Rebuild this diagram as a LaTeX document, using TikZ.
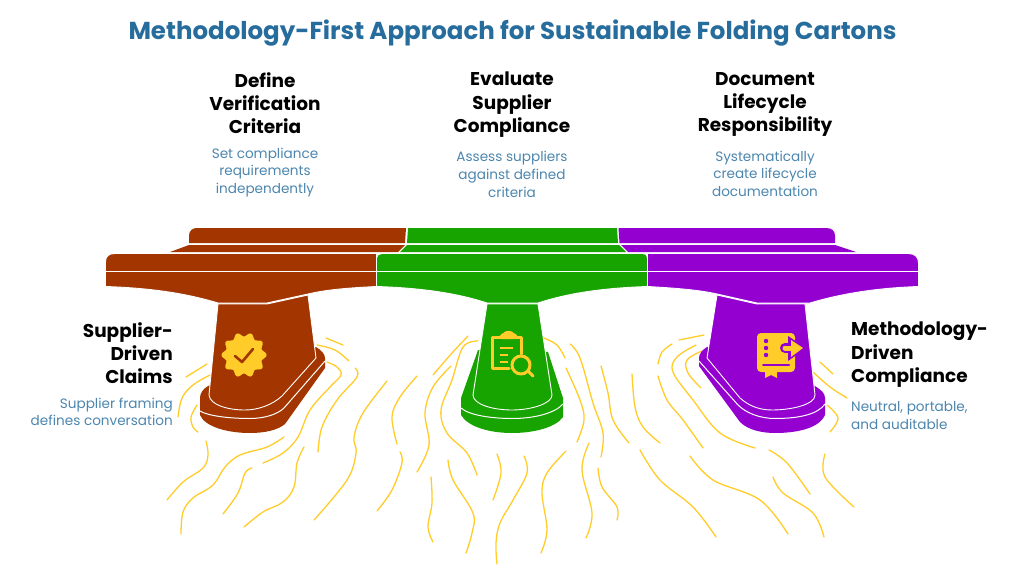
\documentclass[tikz,border=0pt]{standalone}
\usepackage{fontspec}
\setmainfont{Poppins}
\usetikzlibrary{positioning}
\definecolor{rust}{HTML}{A33600}
\definecolor{leaf}{HTML}{17A300}
\definecolor{violetpart}{HTML}{9300D0}
\definecolor{wiggle}{HTML}{FFCC29}
\definecolor{titleblue}{HTML}{266C9C}
\definecolor{noteblue}{HTML}{4C86AE}

\begin{document}
\begin{tikzpicture}[x=1pt,y=-1pt,
  part/.style={draw=white,line width=0.9pt,line join=round},
  seam/.style={draw=white,line width=1pt},
  crack/.style={draw=wiggle,line width=1.3pt,line cap=round},
  icon/.style={draw=wiggle,line width=3pt,line cap=round,line join=round},
  title node/.style={inner sep=0pt,text=titleblue,font=\fontsize{24.5}{30}\selectfont\bfseries},
  head node/.style={inner sep=0pt,align=center,font=\fontsize{18.5}{23.2}\selectfont\bfseries},
  note node/.style={inner sep=0pt,align=center,text=noteblue,font=\fontsize{13.6}{17.6}\selectfont},
  node distance=14pt]
  \useasboundingbox (0,0) rectangle (1024,567);

  % cracks in the ground
  \foreach \crackpts in {
    {(186,377)(207,364)},
    {(178,417)(182,398)(193,385)(210,375)},
    {(197,405)(191,417)(193,427)(198,432)},
    {(206,441)(208,455)(203,468)(183,482)(167,500)},
    {(284,437)(267,447)(240,455)(225,467)(213,485)(193,498)(183,512)(181,534)},
    {(252,468)(245,473)(238,493)(223,514)},
    {(263,463)(283,453)(298,437)(310,410)(330,387)(341,375)(337,367)(327,362)},
    {(304,447)(297,463)(294,487)(283,502)(263,512)(244,527)},
    {(318,452)(322,427)(337,400)(357,377)(355,368)},
    {(317,345)(335,350)(349,361)},
    {(326,338)(343,345)},
    {(387,381)(363,413)(354,437)(356,453)(347,480)(314,520)},
    {(417,376)(400,397)(392,417)(397,444)},
    {(400,452)(402,463)(392,490)(377,511)},
    {(468,336)(452,353)(433,375)},
    {(451,366)(433,387)(425,413)(429,445)(417,472)},
    {(478,341)(463,347)(452,380)(441,410)(447,433)(467,453)(477,475)},
    {(431,477)(432,503)(428,527)(433,542)},
    {(448,460)(453,480)(473,513)(472,533)(466,553)},
    {(497,454)(501,473)(493,500)},
    {(524,456)(527,473)(513,500)(500,523)(496,543)(497,564)},
    {(566,451)(547,473)(542,493)(547,530)(541,553)},
    {(589,443)(582,470)(592,513)(586,538)},
    {(598,468)(602,487)(617,507)(617,520)},
    {(577,442)(584,420)(580,400)(566,368)},
    {(544,338)(557,345)(565,358)},
    {(570,344)(580,358)(593,403)(603,433)(601,457)},
    {(601,366)(608,393)(613,420)(629,443)},
    {(632,374)(635,407)(643,427)(660,443)},
    {(658,376)(667,400)(683,420)(703,448)},
    {(658,364)(662,352)(672,344)},
    {(679,340)(704,335)},
    {(696,345)(677,357)(673,372)(693,400)(720,433)(755,448)},
    {(702,351)(687,360)(688,373)(701,388)},
    {(820,362)(833,374)},
    {(813,372)(830,387)(847,398)},
    {(827,405)(838,418)(830,432)},
    {(640,450)(660,480)(693,507)(716,537)},
    {(690,456)(713,480)(760,500)(788,534)},
    {(769,450)(787,463)(810,494)},
    {(773,477)(783,493)(813,513)(824,537)},
    {(825,454)(825,477)(854,507)}}
    \draw[crack] plot[smooth,tension=0.6] coordinates \crackpts;

  % bases
  \fill[rust] (208,386) .. controls (203,389) and (200,393) .. (200,398) -- (200,415)
    .. controls (205,427) and (228,433) .. (250,433) .. controls (265,433) and (278,430) .. (285,424)
    -- (325,368) -- (325,358) .. controls (325,354) and (321,350) .. (316,347) -- cycle;
  \draw[seam] (200,411) .. controls (208,416) and (230,418.5) .. (250,418.5)
    .. controls (265,418.5) and (278,414) .. (284,408) -- (325,361);
  \fill[leaf] (478,350) -- (461,398) -- (461,415) .. controls (468,427) and (490,433) .. (512,433)
    .. controls (535,433) and (556,427) .. (563,417) -- (563,398) -- (548,352) -- cycle;
  \draw[seam] (461,408) .. controls (470,416) and (495,418.5) .. (512,418.5)
    .. controls (535,418.5) and (555,413) .. (563,404);
  \fill[violetpart] (707,347) .. controls (702,350) and (699,354) .. (699,358) -- (699,366)
    -- (740,422) .. controls (748,430) and (762,433) .. (775,433)
    .. controls (800,433) and (820,427) .. (825,415) -- (825,398)
    .. controls (825,393) and (821,390) .. (815,386) -- cycle;
  \draw[seam] (699,361) -- (738,405) .. controls (746,413) and (760,418.5) .. (775,418.5)
    .. controls (800,418.5) and (818,414) .. (825,404);

  % pillars
  \draw[part,fill=rust] (218,304) -- (267,304) -- (308,295) -- (316,358) -- (282,396)
    .. controls (272,405) and (258,410) .. (245,410) .. controls (228,410) and (210,405) .. (209,395) -- cycle;
  \draw[part,fill=leaf] (487,304) -- (538,304) -- (552,395) .. controls (552,404) and (530,410) .. (512,410)
    .. controls (492,410) and (473,404) .. (473,395) -- cycle;
  \draw[part,fill=violetpart] (717,295) -- (757,304) -- (805,304) -- (815,395)
    .. controls (815,405) and (790,410) .. (772,410) .. controls (758,410) and (748,405) .. (740,398)
    -- (707,358) -- cycle;

  % slabs
  \draw[part,fill=rust] (105.5,286.5) -- (105.5,262) .. controls (105.5,256) and (109,253.5) .. (115,253.5)
    -- (376.5,253.5) -- (376.5,286.5) .. controls (345,288) and (325,290) .. (308,294) -- (267,303) -- (218,303)
    .. controls (185,293) and (150,288) .. (105.5,286.5) -- cycle;
  \draw[part,fill=leaf] (376.5,286.5) -- (376.5,258) .. controls (376.5,255) and (379,253.5) .. (382,253.5)
    -- (643,253.5) .. controls (646,253.5) and (647.5,255) .. (647.5,258) -- (647.5,286.5)
    .. controls (600,288) and (565,294) .. (538,303) -- (487,303)
    .. controls (460,294) and (425,288) .. (376.5,286.5) -- cycle;
  \draw[part,fill=violetpart] (647.5,286.5) -- (647.5,253.5) -- (908,253.5) .. controls (915,253.5) and (918.5,257) .. (918.5,263)
    -- (918.5,286.5) .. controls (875,288) and (840,294) .. (810,303) -- (757,303) -- (717,294)
    .. controls (700,290) and (675,288) .. (647.5,286.5) -- cycle;
  \draw[seam] (105.5,271.5) -- (918.5,271.5);
  \draw[seam] (376.5,253.5) -- (376.5,286.5) (647.5,253.5) -- (647.5,286.5);

  % strips and top planks
  \fill[rust] (170,252) -- (189,245) -- (405,245) -- (398,252) -- cycle;
  \fill[leaf] (400,252) -- (407,245) -- (619,245) -- (626,252) -- cycle;
  \fill[violetpart] (628,252) -- (621,245) -- (835,245) -- (856,252) -- cycle;
  \fill[rust] (189,243) -- (189,236) .. controls (189,231) and (192,228) .. (197,228) -- (406,228) -- (405,243) -- cycle;
  \fill[leaf] (407,243) -- (408,228) -- (617,228) -- (618,243) -- cycle;
  \fill[violetpart] (619.5,243) -- (618.5,228) -- (826,228) .. controls (832,228) and (835,231) .. (835,236) -- (835,243) -- cycle;

  % badge icon
  \fill[wiggle] plot[domain=0:360,samples=181,smooth] ({244+(20.5+2*cos(10*\x))*cos(\x)},{355+(20.5+2*cos(10*\x))*sin(\x)}) -- cycle;
  \draw[draw=rust,line width=2.6pt,line cap=round,line join=round] (235,356) -- (242,362) -- (253,349);

  % clipboard icon
  \draw[icon] (521,354) -- (521,337) -- (492,337) -- (492,368) -- (509,368);
  \fill[wiggle,rounded corners=1.5pt] (500,339) -- (500,334) -- (503,334) -- (505,331) -- (512,331) -- (514,334) -- (517,334) -- (517,339) -- cycle;
  \draw[icon,line width=2pt,line cap=butt] (500,348) -- (513,348) (500,355) -- (508,355) (500,362) -- (508,362);
  \draw[icon] (521,365) circle (9);
  \draw[icon] (528,371) -- (533,376);

  % book icon
  \fill[wiggle,rounded corners=4pt] (757,333) -- (795,333) -- (795,372) -- (757,372) -- cycle;
  \fill[wiggle] (765,370) -- (777,370) -- (777,378) -- (771,375) -- (765,378) -- cycle;
  \draw[violetpart,line width=2pt,line cap=round] (763,365) -- (789,365);
  \fill[violetpart] (766,341) circle (2.2) (766,348) circle (2.2) (766,355) circle (2.2);
  \draw[violetpart,line width=10pt,line cap=round] (785,348) -- (797,348);
  \fill[violetpart] (788,336) -- (806,348) -- (788,361) -- cycle;
  \draw[wiggle,line width=5pt,line cap=round] (785,348) -- (794,348);
  \fill[wiggle] (791,340) -- (803,348) -- (791,357) -- cycle;

  % texts
  \node[title node] (heading) at (512.5,33) {Methodology-First Approach for Sustainable Folding Cartons};

  \node[head node,anchor=north] (define) at (265,72) {Define\\Verification\\Criteria};
  \node[note node,below=14pt of define] (defnote) {Set compliance\\requirements\\independently};
  \node[head node,anchor=north] (evaluate) at (512,72) {Evaluate\\Supplier\\Compliance};
  \node[note node,below=14pt of evaluate] (evalnote) {Assess suppliers\\against defined\\criteria};
  \node[head node,anchor=north] (document) at (765,72) {Document\\Lifecycle\\Responsibility};
  \node[note node,below=14pt of document] (docnote) {Systematically\\create lifecycle\\documentation};

  \node[head node,align=right,anchor=north east] (supplier) at (173,322) {Supplier-\\Driven\\Claims};
  \node[note node,align=right,below left=14pt and 0pt of supplier.south east] (supnote) {Supplier framing\\defines conversation};
  \node[head node,align=left,anchor=north west] (method) at (851,322) {Methodology-\\Driven\\Compliance};
  \node[note node,align=left,below right=14pt and 0pt of method.south west] (metnote) {Neutral, portable,\\and auditable};
\end{tikzpicture}
\end{document}
